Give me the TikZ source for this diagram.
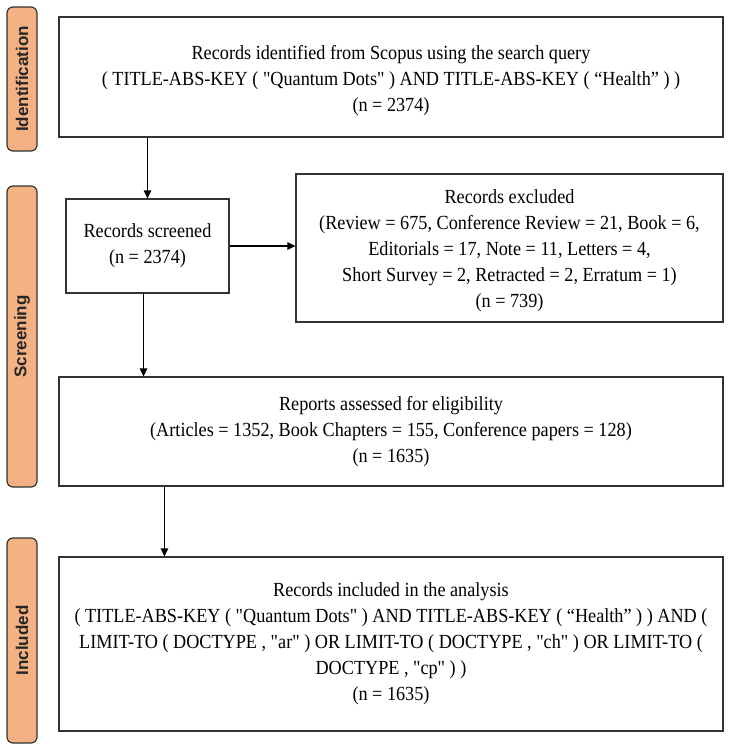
\documentclass[tikz,border=0pt]{standalone}
\usepackage{fontspec}
\newfontfamily\boxfont{Liberation Serif}[FakeStretch=0.91]
\newfontfamily\sidefont{Liberation Sans}
\usetikzlibrary{arrows.meta}
\definecolor{stageorange}{HTML}{F4B183}
\definecolor{edgegray}{HTML}{333333}

\begin{document}
\begin{tikzpicture}[x=1pt, y=-1pt, line width=1.2pt, >={Triangle[length=8pt,width=7.5pt]},
    box/.style={draw=edgegray, align=center, inner sep=0pt, font=\boxfont\fontsize{20}{26}\selectfont},
    stage/.style={draw=edgegray, fill=stageorange, rounded corners=6pt, minimum height=30pt, inner sep=0pt, rotate=90, font=\sidefont\bfseries\fontsize{17}{20}\selectfont, text=black!85}]
  \useasboundingbox (0,0) rectangle (750,750);

  % stages
  \node [stage, minimum width=144pt] (sident) at (22,79) {Identification};
  \node [stage, minimum width=301pt] (sscreen) at (22,336.5) {Screening};
  \node [stage, minimum width=205pt] (sincl) at (22,640.5) {Included};

  % boxes
  \node [box, minimum width=664pt, minimum height=120pt] (ident) at (391,77)
    {\rule{0pt}{21pt}Records identified from Scopus using the search query\\
     ( TITLE-ABS-KEY ( "Quantum Dots" ) AND TITLE-ABS-KEY ( “Health” ) )\\
     (n = 2374)};
  \node [box, minimum width=163pt, minimum height=94pt] (scr) at (147.5,246)
    {Records screened\\ (n = 2374)};
  \node [box, minimum width=427pt, minimum height=148pt] (excl) at (509.5,248)
    {\rule{0pt}{20pt}Records excluded\\
     (Review = 675, Conference Review = 21, Book = 6,\\
     Editorials = 17, Note = 11, Letters = 4,\\
     Short Survey = 2, Retracted = 2, Erratum = 1)\\
     (n = 739)};
  \node [box, minimum width=664pt, minimum height=109pt] (rep) at (391,431.5)
    {Reports assessed for eligibility\\
     (Articles = 1352, Book Chapters = 155, Conference papers = 128)\\
     (n = 1635)};
  \node [box, minimum width=664pt, minimum height=174pt] (incl) at (391,644)
    {Records included in the analysis\\
     ( TITLE-ABS-KEY ( "Quantum Dots" ) AND TITLE-ABS-KEY ( “Health” ) ) AND (\\
     LIMIT-TO ( DOCTYPE , "ar" ) OR LIMIT-TO ( DOCTYPE , "ch" ) OR LIMIT-TO (\\
     DOCTYPE , "cp" ) )\\
     (n = 1635)};

  % arrows
  \draw [->] (ident.south -| scr.north) -- (scr.north);
  \draw [->] (scr.east) -- (scr.east -| excl.west);
  \draw [->] ([xshift=-4pt]scr.south) -- ([xshift=-4pt]scr.south |- rep.north);
  \draw [->] ([xshift=106pt]rep.south west) -- ([xshift=106pt]rep.south west |- incl.north);
\end{tikzpicture}
\end{document}
